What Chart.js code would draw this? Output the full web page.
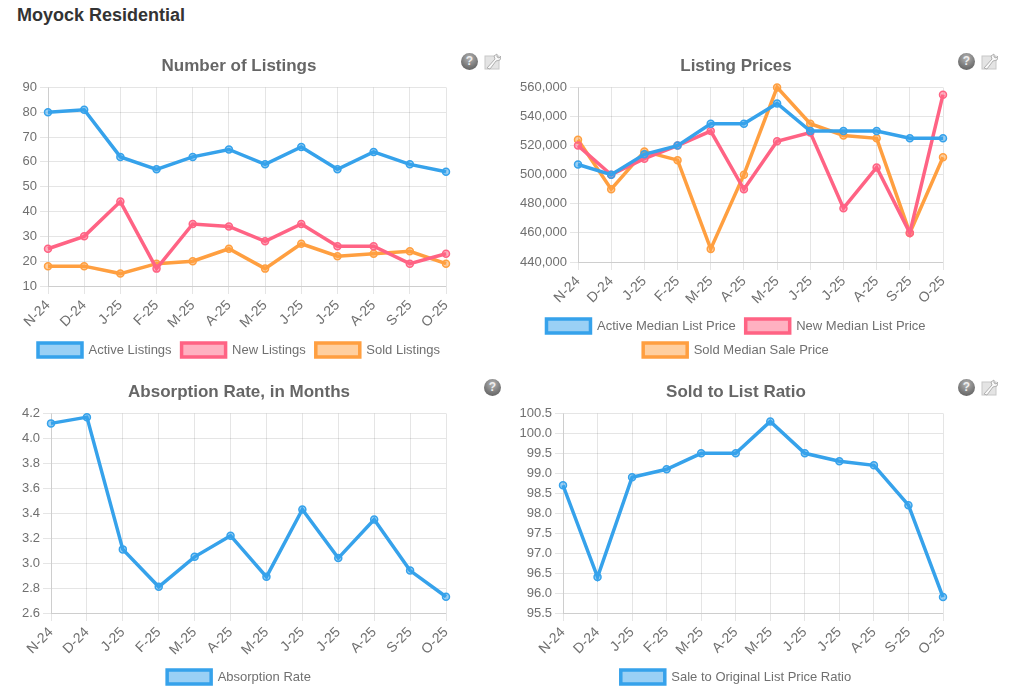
<!DOCTYPE html>
<html>
<head>
<meta charset="utf-8">
<title>Moyock Residential</title>
<script src="https://cdn.jsdelivr.net/npm/chart.js@4"></script>
<style>
    html, body { margin: 0; padding: 0; background: #fff; }
    body { position: relative; width: 1024px; height: 694px; overflow: hidden; font-family: "Liberation Sans", sans-serif; }
    h1 { position: absolute; left: 17px; top: 5px; margin: 0; font-size: 18px; font-weight: bold; color: #333; }
    .box { position: absolute; width: 440px; }
    .help, .tool { position: absolute; width: 17px; height: 17px; }
    .help {
        border-radius: 50%; text-align: center; line-height: 17px; font-size: 12px; font-weight: bold; color: #eee;
        background: radial-gradient(circle at 50% 30%, #b5b5b5, #777 60%, #555);
    }
</style>
</head>
<body>
<h1>Moyock Residential</h1>

<div class="box" style="left:19px;top:47px;height:320px"><canvas id="listingsChart"></canvas></div>
<div class="box" style="left:516px;top:47px;height:320px"><canvas id="pricesChart"></canvas></div>
<div class="box" style="left:19px;top:373px;height:321px"><canvas id="absorptionChart"></canvas></div>
<div class="box" style="left:516px;top:373px;height:321px"><canvas id="ratioChart"></canvas></div>

<div class="help" style="left:461px;top:53px">?</div>
<svg class="tool" style="left:484px;top:53px" viewBox="0 0 17 17"><use href="#wrench"/></svg>
<div class="help" style="left:958px;top:53px">?</div>
<svg class="tool" style="left:981px;top:53px" viewBox="0 0 17 17"><use href="#wrench"/></svg>
<div class="help" style="left:484px;top:379px">?</div>
<div class="help" style="left:958px;top:379px">?</div>
<svg class="tool" style="left:981px;top:379px" viewBox="0 0 17 17"><use href="#wrench"/></svg>

<svg width="0" height="0" style="position:absolute">
    <defs>
        <g id="wrench">
            <rect x="1" y="3" width="14" height="13" fill="#e4e4e4" stroke="#c8c8c8"/>
            <path d="M3 15 L11 6 L10 3 L13 1 L13 4 L15 5 L17 3 L16 7 L12 8 L6 16 Z" fill="#fafafa" stroke="#b0b0b0"/>
        </g>
    </defs>
</svg>

<script>
const months = ["N-24", "D-24", "J-25", "F-25", "M-25", "A-25", "M-25", "J-25", "J-25", "A-25", "S-25", "O-25"];

const activeListings = [80, 81, 62, 57, 62, 65, 59, 66, 57, 64, 59, 56];
const newListings    = [25, 30, 44, 17, 35, 34, 28, 35, 26, 26, 19, 23];
const soldListings   = [18, 18, 15, 19, 20, 25, 17, 27, 22, 23, 24, 19];

const activePrice = [507000, 500000, 514000, 520000, 535000, 535000, 549000, 530000, 530000, 530000, 525000, 525000];
const newPrice    = [520000, 500000, 511000, 520000, 530000, 490000, 523000, 529000, 477000, 505000, 460000, 555000];
const soldPrice   = [524000, 490000, 516000, 510000, 449000, 500000, 560000, 535000, 527000, 525000, 460000, 512000];

const absorptionRate = [4.12, 4.17, 3.11, 2.81, 3.05, 3.22, 2.89, 3.43, 3.04, 3.35, 2.94, 2.73];
const soldToList     = [98.7, 96.4, 98.9, 99.1, 99.5, 99.5, 100.3, 99.5, 99.3, 99.2, 98.2, 95.9];

const BLUE = "54,162,235", PINK = "255,99,132", ORANGE = "255,159,64";
const TEXT = "#707070";

function serie(label, data, rgb) {
    return {
        label, data,
        borderColor: `rgb(${rgb})`,
        backgroundColor: `rgba(${rgb},0.5)`,
        borderWidth: 3.5,
        pointRadius: 3.5,
        pointBorderWidth: 1.5,
        tension: 0,
        fill: false,
        clip: false
    };
}

function desenhar(id, title, datasets, yOpts, fmt, yWidth) {
    new Chart(document.getElementById(id), {
        type: "line",
        data: { labels: months, datasets },
        options: {
            responsive: true,
            maintainAspectRatio: false,
            animation: false,
            plugins: {
                title: { display: true, text: title, color: "#666", font: { size: 17, weight: "bold", family: "Liberation Sans" }, padding: { top: 9, bottom: 11 } },
                legend: { position: "bottom", labels: { color: TEXT, boxWidth: 44, boxHeight: 14, padding: 10, font: { size: 13, family: "Liberation Sans" } } },
                tooltip: { enabled: false }
            },
            scales: {
                x: {
                    // plot stops 13px short of the canvas edge, title and legend stay centred on the canvas
                    afterFit: s => { s.height = 47; s.paddingRight = 13; },
                    ticks: { color: TEXT, maxRotation: 45, minRotation: 45, font: { size: 14, family: "Liberation Sans" } },
                    grid: { color: "rgba(0,0,0,0.1)" }
                },
                y: {
                    ...yOpts,
                    afterFit: s => { s.width = yWidth; },
                    ticks: { ...yOpts.ticks, autoSkip: false, color: TEXT, callback: fmt, font: { size: 13, family: "Liberation Sans" } },
                    grid: { color: "rgba(0,0,0,0.1)" }
                }
            }
        }
    });
}

desenhar("listingsChart", "Number of Listings",
    [serie("Active Listings", activeListings, BLUE), serie("New Listings", newListings, PINK), serie("Sold Listings", soldListings, ORANGE)],
    { min: 10, max: 90, ticks: { stepSize: 10 } }, v => v, 29);

desenhar("pricesChart", "Listing Prices",
    [serie("Active Median List Price", activePrice, BLUE), serie("New Median List Price", newPrice, PINK), serie("Sold Median Sale Price", soldPrice, ORANGE)],
    { min: 440000, max: 560000, ticks: { stepSize: 20000 } }, v => v.toLocaleString("en-US"), 62);

desenhar("absorptionChart", "Absorption Rate, in Months",
    [serie("Absorption Rate", absorptionRate, BLUE)],
    { min: 2.6, max: 4.2, ticks: { stepSize: 0.2 } }, v => v.toFixed(1), 32);

desenhar("ratioChart", "Sold to List Ratio",
    [serie("Sale to Original List Price Ratio", soldToList, BLUE)],
    { min: 95.5, max: 100.5, ticks: { stepSize: 0.5 } }, v => v.toFixed(1), 47);
</script>
</body>
</html>
